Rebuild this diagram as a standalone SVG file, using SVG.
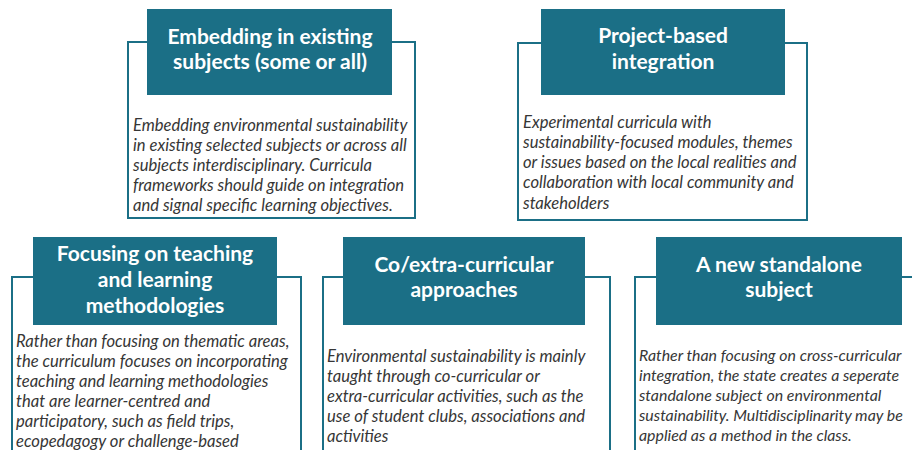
<svg xmlns="http://www.w3.org/2000/svg" width="912" height="450" viewBox="0 0 912 450">
  <style>
    .frame { fill: #ffffff; stroke: #1b6f86; stroke-width: 2; }
    .head { fill: #1b6f86; }
    .ht { font-family: Lato, "Open Sans", sans-serif; font-weight: 700; font-size: 21px; fill: #ffffff; text-anchor: middle; }
    .bt { font-family: Lato, "Open Sans", sans-serif; font-style: italic; font-size: 16.6px; fill: #363636; }
    .bts { font-size: 15.9px; }
  </style>
  <rect x="0" y="0" width="912" height="450" fill="#ffffff"/>
  <g id="connectors"></g>

  <g id="embedding">
    <rect class="frame" x="128" y="42" width="287" height="176"/>
    <rect class="head" x="147" y="9" width="245" height="86"/>
    <text class="ht" x="270" y="44">Embedding in existing</text>
    <text class="ht" x="270" y="69">subjects (some or all)</text>
    <text class="bt" x="133" y="131">Embedding environmental sustainability</text>
    <text class="bt" x="133" y="151">in existing selected subjects or across all</text>
    <text class="bt" x="133" y="171">subjects interdisciplinary. Curricula</text>
    <text class="bt" x="133" y="191">frameworks should guide on integration</text>
    <text class="bt" x="133" y="211">and signal specific learning objectives.</text>
  </g>

  <g id="project">
    <rect class="frame" x="518" y="43" width="289" height="177"/>
    <rect class="head" x="541" y="9" width="244" height="86"/>
    <text class="ht" x="663" y="43">Project-based</text>
    <text class="ht" x="663" y="69">integration</text>
    <text class="bt" x="523" y="128">Experimental curricula with</text>
    <text class="bt" x="523" y="148">sustainability-focused modules, themes</text>
    <text class="bt" x="523" y="168">or issues based on the local realities and</text>
    <text class="bt" x="523" y="188">collaboration with local community and</text>
    <text class="bt" x="523" y="209">stakeholders</text>
  </g>

  <g id="methodologies">
    <rect class="frame" x="12" y="277" width="289" height="190"/>
    <rect class="head" x="33" y="237" width="244" height="88"/>
    <text class="ht" x="155" y="261">Focusing on teaching</text>
    <text class="ht" x="155" y="287">and learning</text>
    <text class="ht" x="155" y="313">methodologies</text>
    <text class="bt" x="16" y="347">Rather than focusing on thematic areas,</text>
    <text class="bt" x="16" y="367">the curriculum  focuses on incorporating</text>
    <text class="bt" x="16" y="387">teaching and learning methodologies</text>
    <text class="bt" x="16" y="407">that are learner-centred and</text>
    <text class="bt" x="16" y="427">participatory, such as field trips,</text>
    <text class="bt" x="16" y="447">ecopedagogy or challenge-based</text>
  </g>

  <g id="cocurricular">
    <rect class="frame" x="323" y="277" width="287" height="190"/>
    <rect class="head" x="343" y="237" width="242" height="88"/>
    <text class="ht" x="464" y="272">Co/extra-curricular</text>
    <text class="ht" x="464" y="297">approaches</text>
    <text class="bt" x="327" y="362">Environmental sustainability is mainly</text>
    <text class="bt" x="327" y="382">taught through co-curricular or</text>
    <text class="bt" x="327" y="402">extra-curricular activities, such as the</text>
    <text class="bt" x="327" y="422">use of student clubs, associations and</text>
    <text class="bt" x="327" y="442">activities</text>
  </g>

  <g id="standalone">
    <rect class="frame" x="635" y="277" width="300" height="190"/>
    <rect class="head" x="656" y="237" width="246" height="88"/>
    <text class="ht" x="779" y="272">A new standalone</text>
    <text class="ht" x="779" y="297">subject</text>
    <text class="bt bts" x="639" y="361">Rather than focusing on cross-curricular</text>
    <text class="bt bts" x="639" y="381">integration, the state creates a seperate</text>
    <text class="bt bts" x="639" y="401">standalone subject on environmental</text>
    <text class="bt bts" x="639" y="421">sustainability. Multidisciplinarity may be</text>
    <text class="bt bts" x="639" y="441">applied as a method in the class.</text>
  </g>
</svg>
